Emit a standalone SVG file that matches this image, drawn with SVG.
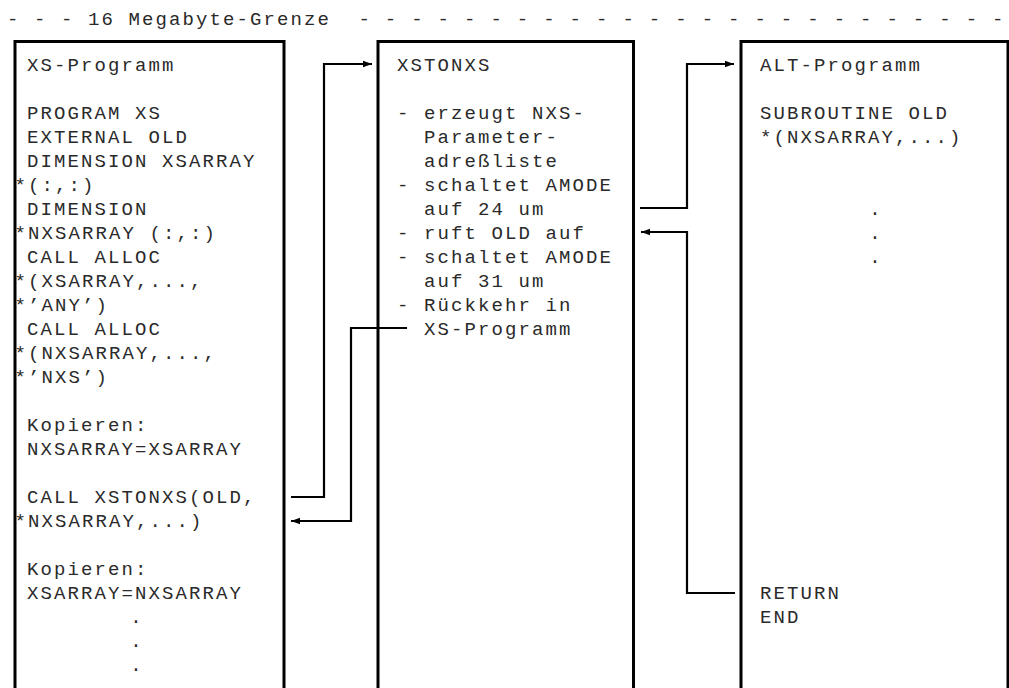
<svg xmlns="http://www.w3.org/2000/svg" width="1009" height="688" viewBox="0 0 1009 688">
<style>
.t{font-family:"Liberation Mono","DejaVu Sans Mono",monospace;font-size:19px;letter-spacing:2.1px;fill:#2a2a2a;white-space:pre}
.m{text-anchor:middle}
.box{fill:#fff;stroke:#000;stroke-width:3}
.c{fill:none;stroke:#000;stroke-width:2.2}
</style>
<defs>
<marker id="ah" markerUnits="userSpaceOnUse" markerWidth="10" markerHeight="8" refX="9" refY="4" orient="auto">
<path d="M0,0.8 L9,4 L0,7.2 z" fill="#000"/>
</marker>
</defs>
<rect width="1009" height="688" fill="#fff"/>
<text class="t" x="7" y="25" xml:space="preserve">- - - 16 Megabyte-Grenze</text>
<text class="t" x="358.4" y="25" style="letter-spacing:1.8px" xml:space="preserve">- - - - - - - - - - - - - - - - - - - - - - - - -</text>

<g id="xs-programm">
<rect class="box" x="15" y="41.5" width="269" height="700"/>
<text class="t" x="27" y="70.5">XS-Programm</text>
<text class="t" x="27" y="118.5">PROGRAM XS</text>
<text class="t" x="27" y="142.5">EXTERNAL OLD</text>
<text class="t" x="27" y="166.5">DIMENSION XSARRAY</text>
<text class="t" x="14.5" y="190.5">*(:,:)</text>
<text class="t" x="27" y="214.5">DIMENSION</text>
<text class="t" x="14.5" y="238.5">*NXSARRAY (:,:)</text>
<text class="t" x="27" y="262.5">CALL ALLOC</text>
<text class="t" x="14.5" y="286.5">*(XSARRAY,...,</text>
<text class="t" x="14.5" y="310.5">*’ANY’)</text>
<text class="t" x="27" y="334.5">CALL ALLOC</text>
<text class="t" x="14.5" y="358.5">*(NXSARRAY,...,</text>
<text class="t" x="14.5" y="382.5">*’NXS’)</text>
<text class="t" x="27" y="430.5">Kopieren:</text>
<text class="t" x="27" y="454.5">NXSARRAY=XSARRAY</text>
<text class="t" x="27" y="502.5">CALL XSTONXS(OLD,</text>
<text class="t" x="14.5" y="526.5">*NXSARRAY,...)</text>
<text class="t" x="27" y="574.5">Kopieren:</text>
<text class="t" x="27" y="598.5">XSARRAY=NXSARRAY</text>
<text class="t m" x="137" y="622.5">.</text>
<text class="t m" x="137" y="646.5">.</text>
<text class="t m" x="137" y="670.5">.</text>
</g>

<g id="xstonxs">
<rect class="box" x="378" y="41.5" width="255.5" height="700"/>
<text class="t" x="397" y="70.5">XSTONXS</text>
<text class="t" x="397" y="118.5">- erzeugt NXS-</text>
<text class="t" x="424" y="142.5">Parameter-</text>
<text class="t" x="424" y="166.5">adreßliste</text>
<text class="t" x="397" y="190.5">- schaltet AMODE</text>
<text class="t" x="424" y="214.5">auf 24 um</text>
<text class="t" x="397" y="238.5">- ruft OLD auf</text>
<text class="t" x="397" y="262.5">- schaltet AMODE</text>
<text class="t" x="424" y="286.5">auf 31 um</text>
<text class="t" x="397" y="310.5">- Rückkehr in</text>
<text class="t" x="424" y="334.5">XS-Programm</text>
</g>

<g id="alt-programm">
<rect class="box" x="741" y="41.5" width="267" height="700"/>
<text class="t" x="760" y="70.5">ALT-Programm</text>
<text class="t" x="760" y="118.5">SUBROUTINE OLD</text>
<text class="t" x="760" y="142.5">*(NXSARRAY,...)</text>
<text class="t m" x="876" y="214.5">.</text>
<text class="t m" x="876" y="238.5">.</text>
<text class="t m" x="876" y="262.5">.</text>
<text class="t" x="760" y="598.5">RETURN</text>
<text class="t" x="760" y="622.5">END</text>
</g>

<g id="connectors">
<path class="c" d="M291,497 H324 V64 H372" marker-end="url(#ah)"/>
<path class="c" d="M407,328 H351 V521 H291" marker-end="url(#ah)"/>
<path class="c" d="M640,208 H687 V64 H734" marker-end="url(#ah)"/>
<path class="c" d="M735,593 H687 V232 H641" marker-end="url(#ah)"/>
</g>
</svg>
